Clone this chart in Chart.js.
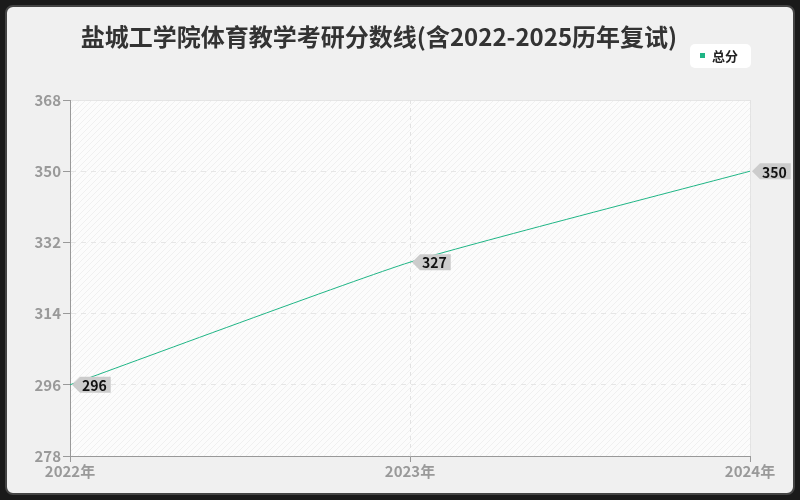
<!DOCTYPE html>
<html lang="zh">
<head>
<meta charset="UTF-8">
<title>盐城工学院体育教学考研分数线</title>
<script src="https://cdn.jsdelivr.net/npm/chart.js"></script>
<style>
    body { margin: 0; background: #1a1a1a; }
    .frame {
        position: absolute; left: 5px; top: 5px;
        width: 786px; height: 486px;
        background: #f0f0f0;
        border: 2px solid #444;
        border-radius: 8px;
    }
    .wrap { position: absolute; left: 0; top: 0; width: 800px; height: 500px; }
</style>
</head>
<body>
<div class="frame"></div>
<div class="wrap"><canvas id="chart" width="800" height="500"></canvas></div>
<script>
    // data
    var years = ['2022年', '2023年', '2024年'];
    var totalScores = [296, 327, 350];
    var seriesName = '总分';
    var titleText = '盐城工学院体育教学考研分数线(含2022-2025历年复试)';

    var lineColor = '#1fb585';
    var fontFamily = '"Noto Sans CJK SC", "Noto Sans", sans-serif';

    // faint diagonal hatch for the plot area
    function hatchPattern(ctx) {
        var c = document.createElement('canvas');
        c.width = 6; c.height = 6;
        var p = c.getContext('2d');
        p.fillStyle = '#fcfcfc';
        p.fillRect(0, 0, 6, 6);
        p.strokeStyle = '#f0f0f0';
        p.lineWidth = 1;
        p.beginPath();
        p.moveTo(0, 6); p.lineTo(6, 0);
        p.moveTo(-1, 1); p.lineTo(1, -1);
        p.moveTo(5, 7); p.lineTo(7, 5);
        p.stroke();
        return ctx.createPattern(c, 'repeat');
    }

    var decorations = {
        id: 'decorations',
        beforeDraw: function(chart) {
            var ctx = chart.ctx, a = chart.chartArea;
            ctx.save();
            ctx.fillStyle = hatchPattern(ctx);
            ctx.fillRect(a.left, a.top, a.right - a.left, a.bottom - a.top);
            ctx.strokeStyle = '#e4e4e4';
            ctx.lineWidth = 1;
            ctx.strokeRect(a.left + 0.5, a.top + 0.5, a.right - a.left, a.bottom - a.top);
            ctx.restore();
        },
        afterDraw: function(chart) {
            var ctx = chart.ctx;
            ctx.save();
            // title
            ctx.font = 'bold 24px ' + fontFamily;
            ctx.fillStyle = '#333';
            ctx.textAlign = 'center';
            ctx.textBaseline = 'middle';
            ctx.fillText(titleText, 379, 37);

            // legend box
            ctx.fillStyle = '#ffffff';
            ctx.beginPath();
            ctx.roundRect(690, 44, 61, 24, 5);
            ctx.fill();
            ctx.fillStyle = lineColor;
            ctx.fillRect(700, 53, 5, 5);
            ctx.font = 'bold 13px ' + fontFamily;
            ctx.fillStyle = '#222';
            ctx.textAlign = 'left';
            ctx.fillText(seriesName, 712, 56);

            // value tags
            var meta = chart.getDatasetMeta(0);
            ctx.font = 'bold 14px ' + fontFamily;
            meta.data.forEach(function(pt, i) {
                var x = pt.x, y = pt.y;
                var label = String(totalScores[i]);
                var w = ctx.measureText(label).width + 6;
                var h = 16;
                ctx.fillStyle = '#cccccc';
                ctx.beginPath();
                ctx.moveTo(x + 2, y);
                ctx.lineTo(x + 10, y - h / 2);
                ctx.lineTo(x + 10 + w, y - h / 2);
                ctx.lineTo(x + 10 + w, y + h / 2);
                ctx.lineTo(x + 10, y + h / 2);
                ctx.closePath();
                ctx.fill();
                ctx.fillStyle = '#111';
                ctx.textAlign = 'left';
                ctx.fillText(label, x + 12, y + 1);
            });
            ctx.restore();
        }
    };

    new Chart(document.getElementById('chart'), {
        type: 'line',
        data: {
            labels: years,
            datasets: [{
                label: seriesName,
                data: totalScores,
                borderColor: lineColor,
                backgroundColor: lineColor,
                borderWidth: 1,
                pointRadius: 0,
                tension: 0.15,
                fill: false
            }]
        },
        options: {
            responsive: false,
            animation: false,
            devicePixelRatio: 1,
            layout: { padding: { top: 100, right: 50, bottom: 20, left: 0 } },
            plugins: {
                legend: { display: false },
                title: { display: false },
                tooltip: { enabled: false }
            },
            scales: {
                x: {
                    offset: false,
                    grid: {
                        color: '#e2e2e2',
                        tickColor: '#999',
                        tickLength: 6,
                        drawOnChartArea: true
                    },
                    border: { color: '#999', dash: [4, 4] },
                    ticks: {
                        color: '#999',
                        font: { family: fontFamily, size: 15, weight: 'bold' },
                        padding: 0,
                        maxRotation: 0
                    }
                },
                y: {
                    min: 278,
                    max: 368,
                    afterFit: function(s) { s.width = 70; },
                    grid: {
                        color: '#e6e6e6',
                        tickColor: '#999',
                        tickLength: 7
                    },
                    border: { color: '#999', dash: [5, 5] },
                    ticks: {
                        stepSize: 18,
                        color: '#999',
                        font: { family: fontFamily, size: 15, weight: 'bold' },
                        padding: 2
                    }
                }
            }
        },
        plugins: [decorations]
    });
</script>
</body>
</html>
